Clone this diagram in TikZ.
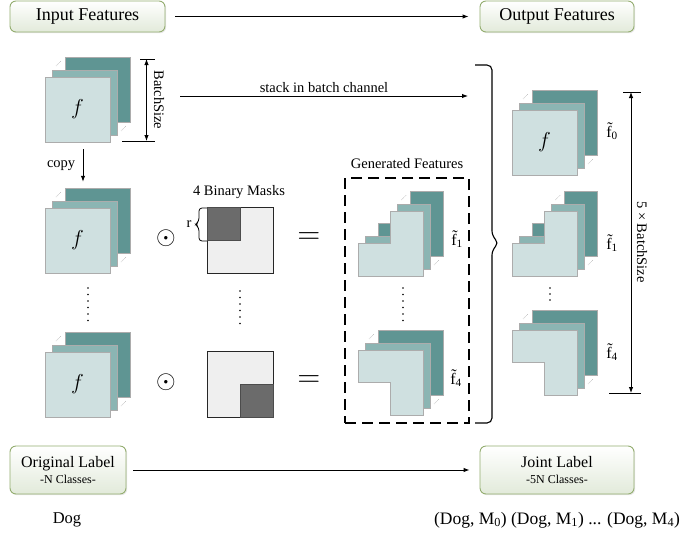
\documentclass[tikz,border=0pt]{standalone}
\usepackage{fontspec}
\setmainfont{Liberation Serif}
\usepackage{amsmath}
\usepackage{tikz}
\usetikzlibrary{arrows,arrows.meta,positioning,shadows,calc}

\definecolor{featdark}{HTML}{5F9593}
\definecolor{featmid}{HTML}{8BB5B3}
\definecolor{featlight}{HTML}{CFE0E0}
\definecolor{boxline}{HTML}{93AD6F}
\definecolor{boxfill}{HTML}{E2EADA}
\definecolor{maskdark}{HTML}{6B6B6B}
\definecolor{masklight}{HTML}{EFEFEF}

\newcommand{\fsbig}{\fontsize{18}{21}\selectfont}
\newcommand{\fsmid}{\fontsize{16}{19}\selectfont}
\newcommand{\fssmall}{\fontsize{12}{15}\selectfont}
\newcommand{\ftil}[1]{\~{f}\textsubscript{#1}}

\tikzset{
  stage/.style={draw=boxline, line width=0.9pt, rounded corners=6pt, top color=white, bottom color=boxfill,
    drop shadow={opacity=0.18, shadow xshift=1.2pt, shadow yshift=-1.2pt}, align=center, inner sep=0pt},
  layer/.style={draw=gray!65, line width=0.5pt},
  layer back/.style={layer, fill=featdark},
  layer mid/.style={layer, fill=featmid},
  layer front/.style={layer, fill=featlight},
  depth dots/.style={densely dotted, gray!80, line width=0.5pt},
  mask sq/.style={draw=black!85, line width=0.8pt, fill=masklight, minimum size=66pt, inner sep=0pt},
  mask dark/.style={draw=black!70, line width=0.6pt, fill=maskdark, minimum size=33pt, inner sep=0pt},
  operator/.style={inner sep=0pt, scale=#1},
  flow/.style={->, line width=0.9pt},
  full map/.pic={
    \filldraw[layer back] (20,-20) rectangle ++(65,65);
    \filldraw[layer mid] (7,-7) rectangle ++(65,65);
    \node[layer front, minimum size=65pt, inner sep=0pt] (-front) at (32.5,32.5) {\scalebox{1.5}{$f$}};
    \draw[depth dots] (11,-11) -- (16,-16);
    \draw[depth dots] (76,54) -- (81,49);
  },
  notch tl/.pic={
    \filldraw[layer back, shift={(20,-20)}] (0,32.5) -- (0,65) -- (65,65) -- (65,0) -- (32.5,0) -- (32.5,32.5) -- cycle;
    \filldraw[layer mid, shift={(7,-7)}] (0,32.5) -- (0,65) -- (65,65) -- (65,0) -- (32.5,0) -- (32.5,32.5) -- cycle;
    \filldraw[layer front] (0,32.5) -- (0,65) -- (65,65) -- (65,0) -- (32.5,0) -- (32.5,32.5) -- cycle;
    \coordinate (-c) at (32.5,32.5);
    \draw[depth dots] (43.5,-11) -- (48.5,-16);
    \draw[depth dots] (76,54) -- (81,49);
  },
  notch bl/.pic={
    \filldraw[layer back, shift={(20,-20)}] (0,0) -- (65,0) -- (65,65) -- (32.5,65) -- (32.5,32.5) -- (0,32.5) -- cycle;
    \filldraw[layer mid, shift={(7,-7)}] (0,0) -- (65,0) -- (65,65) -- (32.5,65) -- (32.5,32.5) -- (0,32.5) -- cycle;
    \filldraw[layer front] (0,0) -- (65,0) -- (65,65) -- (32.5,65) -- (32.5,32.5) -- (0,32.5) -- cycle;
    \coordinate (-c) at (32.5,32.5);
    \draw[depth dots] (11,-11) -- (16,-16);
    \draw[depth dots] (76,54) -- (81,49);
  }
}

\begin{document}
\begin{tikzpicture}[x=1pt, y=-1pt, >={Latex[length=6pt,width=4.5pt]}, font=\fontsize{14.5}{17}\selectfont]
  \useasboundingbox (0,0) rectangle (684,535);

  % Define nodes
  \node[stage, minimum width=155pt, minimum height=31pt, font=\fsbig] (infeat) at (87.5,16.5) {Input Features};
  \node[stage, minimum width=154pt, minimum height=31pt, font=\fsbig] (outfeat) at (557,16.5) {Output Features};
  \node[stage, minimum width=116pt, minimum height=48pt] (origlab) at (68,470) {{\fsmid Original Label}\\[-1pt]{\fssmall -N Classes-}};
  \node[stage, minimum width=154pt, minimum height=48pt] (jointlab) at (557,470) {{\fsmid Joint Label}\\[-1pt]{\fssmall -5N Classes-}};
  \node[font=\fontsize{16.5}{19}\selectfont] (dog) at (67,520) {Dog};
  \node[font=\fontsize{17.5}{20}\selectfont] (dogs) at (557,520) {(Dog, M\textsubscript{0}) (Dog, M\textsubscript{1}) ... (Dog, M\textsubscript{4})};

  % Feature stacks
  \pic (s0) at (45,77) {full map};
  \pic (s1) at (45,208) {full map};
  \pic (s2) at (45,352) {full map};
  \node[draw, dash pattern=on 11pt off 6pt, line width=1.1pt, minimum width=124pt, minimum height=245pt] (genbox) at (407,300.5) {};
  \node (gentitle) at (407,164) {Generated Features};
  \pic (g1) at (358,211) {notch tl};
  \pic (g4) at (358,350) {notch bl};
  \pic (o0) at (512,110) {full map};
  \pic (o1) at (512,211) {notch tl};
  \pic (o4) at (512,330) {notch bl};
  \node[font=\fsmid] (lg1) at (457,239) {\ftil{1}};
  \node[font=\fsmid] (lg4) at (456,378) {\ftil{4}};
  \node[font=\fsmid] (lo0) at (612,131) {\ftil{0}};
  \node[font=\fsmid] (lo1) at (612,243) {\ftil{1}};
  \node[font=\fsmid] (lo4) at (612,352) {\ftil{4}};

  % Masks
  \node (masktitle) at (239,192) {4 Binary Masks};
  \node[mask sq] (m1) at (240,240.5) {};
  \node[mask dark] (m1d) at (223.75,224.25) {};
  \node[mask sq] (m4) at (240,384) {};
  \node[mask dark] (m4d) at (256.5,400.5) {};
  \node (rlab) at (189,224) {r};
  \draw[line width=0.8pt, rounded corners=3pt] (207,208) -- (199,208) -- (199,221) -- (195.5,224.5) -- (199,228) -- (199,241) -- (207,241);

  % Operators
  \node[operator=1.75] (dot1) at (166,238) {$\odot$};
  \node[operator=1.75] (dot4) at (166,382) {$\odot$};
  \node[operator=2.1] (eq1) at (309,238) {$=$};
  \node[operator=2.1] (eq4) at (309,381) {$=$};
  \foreach \y in {288,294.5,...,321} \fill (88,\y) circle (0.9pt);
  \foreach \y in {291,297.5,...,328} \fill (240,\y) circle (0.9pt);
  \foreach \y in {288,294.5,...,322} \fill (403,\y) circle (0.9pt);
  \foreach \y in {288,294,300} \fill (550,\y) circle (0.9pt);

  % Batch size marks
  \coordinate (bstop) at (146.5,59);
  \coordinate (bsbot) at (146.5,141);
  \draw[line width=0.9pt] (140,59) -- (155,59);
  \draw[line width=0.9pt] (122,141) -- (155,141);
  \draw[<->, line width=0.9pt] (bstop) -- (bsbot);
  \node[rotate=-90] (bslab) at (159,100) {BatchSize};
  \coordinate (fbtop) at (631,92);
  \coordinate (fbbot) at (631,393);
  \draw[line width=0.9pt] (623,92) -- (641,92);
  \draw[line width=0.9pt] (609,393) -- (641,393);
  \draw[<->, line width=0.9pt] (fbtop) -- (fbbot);
  \node[rotate=-90] (fblab) at (642,242) {5 × BatchSize};

  % Draw edges
  \draw[flow, shorten <=10pt, shorten >=11pt] (infeat) -- (outfeat);
  \draw[flow, shorten <=7pt, shorten >=10pt] (origlab) -- (jointlab);
  \coordinate (stka) at (180,96);
  \coordinate (stkb) at (468,96);
  \draw[flow] (stka) -- (stkb) node[midway, above=0pt] {stack in batch channel};
  \draw[flow] ([xshift=5.5pt,yshift=-7pt]s0-front.south) -- ([xshift=5.5pt,yshift=26pt]s1-front.north) node[midway, left=4pt] {copy};
  \draw[line width=1.1pt, rounded corners=5pt] (475,65) -- (492,65) -- (492,236) -- (499,243) -- (492,250) -- (492,423) -- (475,423);
\end{tikzpicture}
\end{document}
